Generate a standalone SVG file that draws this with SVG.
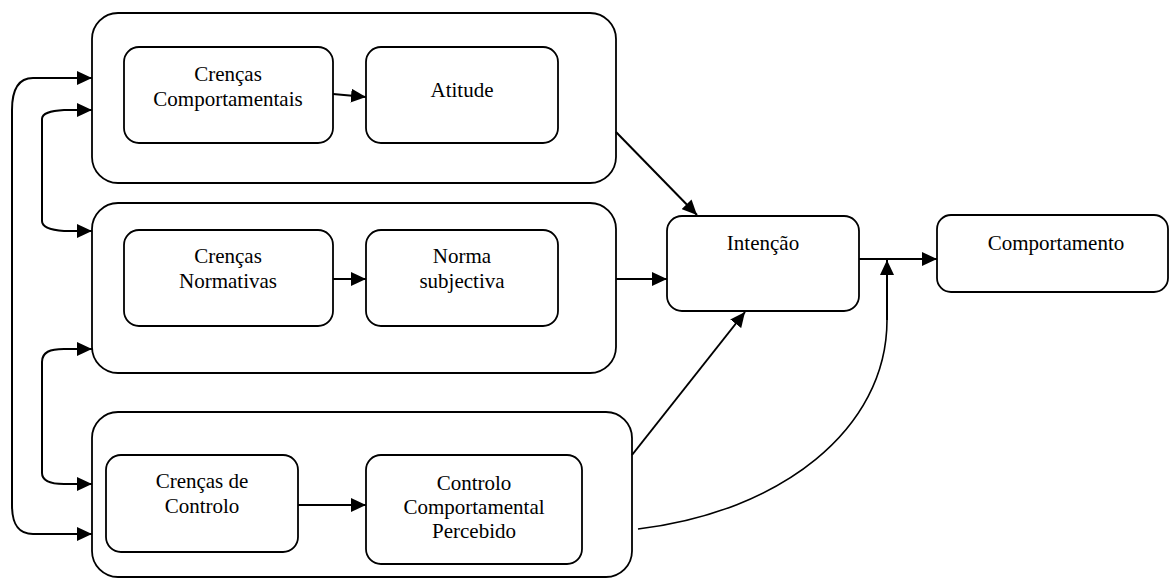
<svg xmlns="http://www.w3.org/2000/svg" width="1170" height="578" viewBox="0 0 1170 578">
<style>
.box{fill:#fff;stroke:#000;stroke-width:1.8}
.t{font-family:"Liberation Serif","Times New Roman",serif;font-size:21px;fill:#000;text-anchor:middle}
.c{fill:none;stroke:#000;stroke-width:2}
.thin{fill:none;stroke:#000;stroke-width:1.6}
</style>
<defs>
<marker id="ah" markerUnits="userSpaceOnUse" markerWidth="15" markerHeight="14" refX="15" refY="7" orient="auto-start-reverse" viewBox="0 0 15 14">
<path d="M0,0 L15,7 L0,14 z" fill="#000"/>
</marker>
</defs>
<rect width="1170" height="578" fill="#fff"/>
<g id="group-atitude">
<rect class="box" x="92" y="13" width="524" height="170" rx="26" ry="26"/>
</g>
<g id="group-norma">
<rect class="box" x="92" y="203" width="524" height="170" rx="26" ry="26"/>
</g>
<g id="group-controlo">
<rect class="box" x="92" y="412" width="540" height="165" rx="26" ry="26"/>
</g>
<g id="crencas-comportamentais">
<rect class="box" x="124" y="47" width="209" height="96" rx="15" ry="15"/>
<text class="t" x="228" y="81">Crenças</text>
<text class="t" x="228" y="106">Comportamentais</text>
</g>
<g id="atitude">
<rect class="box" x="366" y="47" width="192" height="96" rx="15" ry="15"/>
<text class="t" x="462" y="97">Atitude</text>
</g>
<g id="crencas-normativas">
<rect class="box" x="124" y="230" width="209" height="96" rx="15" ry="15"/>
<text class="t" x="228" y="263">Crenças</text>
<text class="t" x="228" y="288">Normativas</text>
</g>
<g id="norma-subjectiva">
<rect class="box" x="366" y="230" width="192" height="96" rx="15" ry="15"/>
<text class="t" x="462" y="263">Norma</text>
<text class="t" x="462" y="288">subjectiva</text>
</g>
<g id="crencas-controlo">
<rect class="box" x="106" y="455" width="192" height="97" rx="15" ry="15"/>
<text class="t" x="202" y="488">Crenças de</text>
<text class="t" x="202" y="513">Controlo</text>
</g>
<g id="controlo-percebido">
<rect class="box" x="366" y="455" width="216" height="109" rx="15" ry="15"/>
<text class="t" x="474" y="490">Controlo</text>
<text class="t" x="474" y="514">Comportamental</text>
<text class="t" x="474" y="538">Percebido</text>
</g>
<g id="intencao">
<rect class="box" x="667" y="216" width="192" height="95" rx="15" ry="15"/>
<text class="t" x="763" y="250">Intenção</text>
</g>
<g id="comportamento">
<rect class="box" x="937" y="215" width="231" height="77" rx="14" ry="14"/>
<text class="t" x="1056" y="250">Comportamento</text>
</g>
<g id="connectors">
<path class="c" d="M92,78 L33,78 C18,78 12,90 12,110 L12,505 C12,524 18,534 33,534 L92,534" marker-start="url(#ah)" marker-end="url(#ah)"/>
<path class="c" d="M92,110 L64,110 C50,111 42,113 42,119 L42,221 C42,227 50,230 64,231 L92,231" marker-start="url(#ah)" marker-end="url(#ah)"/>
<path class="c" d="M92,349 L64,349 C50,349 42,352 42,362 L42,473 C42,480 50,484 64,484 L92,484" marker-start="url(#ah)" marker-end="url(#ah)"/>
<path class="c" d="M333,94 L366,97" marker-end="url(#ah)"/>
<path class="c" d="M333,279 L366,279" marker-end="url(#ah)"/>
<path class="c" d="M298,505 L366,505" marker-end="url(#ah)"/>
<path class="c" d="M616,132 L697,215" marker-end="url(#ah)"/>
<path class="c" d="M616,279 L667,279" marker-end="url(#ah)"/>
<path class="c" d="M632,455 L745,312" marker-end="url(#ah)"/>
<path class="c" d="M859,259 L937,259" marker-end="url(#ah)"/>
<path class="thin" d="M638,529 C780,512 887,430 887,320"/>
<path class="c" d="M887,320 L887,260" marker-end="url(#ah)"/>
</g>
</svg>
